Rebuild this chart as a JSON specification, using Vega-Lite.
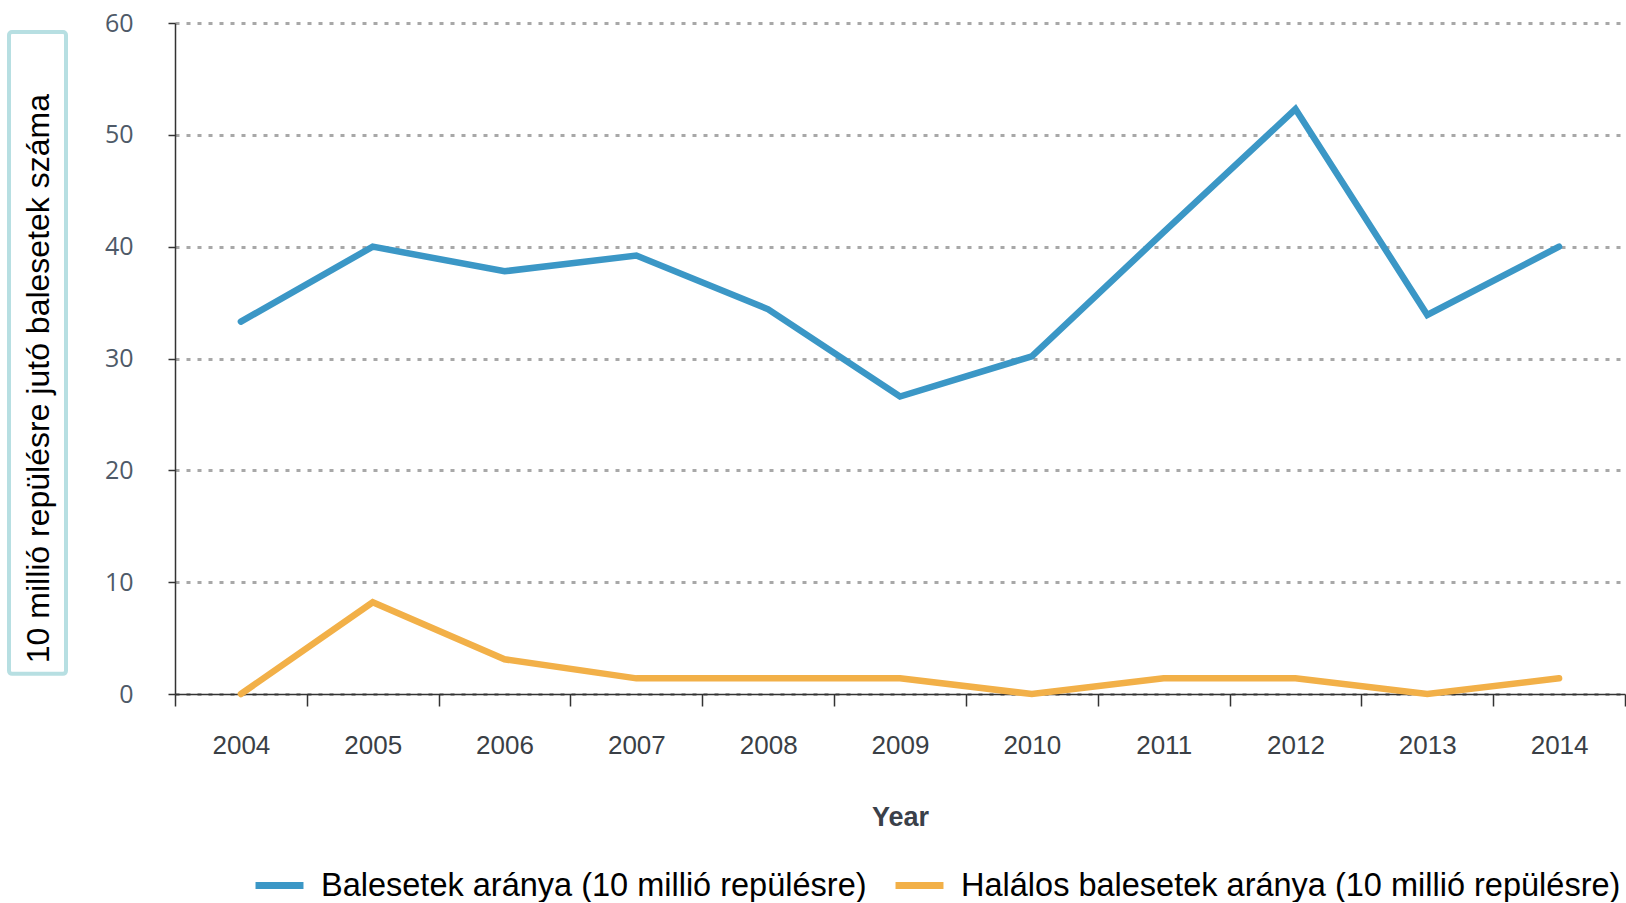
{
  "$schema": "https://vega.github.io/schema/vega-lite/v6.json",
  "padding": {"left": 7, "top": 11, "right": 0, "bottom": 0},
  "background": "white",
  "config": {"view": {"stroke": null}},
  "spacing": 36,
  "hconcat": [
    {
      "width": 57,
      "height": 671,
      "data": {"values": [{"label": "10 millió repülésre jutó balesetek száma"}]},
      "layer": [
        {
          "mark": {"type": "rect", "fill": null, "stroke": "#b7dfe2", "strokeWidth": 4, "cornerRadius": 3},
          "encoding": {
            "x": {"datum": 0, "type": "quantitative", "scale": {"domain": [0, 1], "nice": false, "zero": false}, "axis": null},
            "x2": {"datum": 1},
            "y": {"datum": 59.2, "type": "quantitative", "scale": {"domain": [0, 60], "nice": false}, "axis": null},
            "y2": {"datum": 1.8}
          }
        },
        {
          "mark": {"type": "text", "angle": 270, "align": "center", "baseline": "middle", "font": "Liberation Sans", "fontSize": 32, "color": "black"},
          "encoding": {
            "x": {"datum": 0.52, "type": "quantitative"},
            "y": {"datum": 28.2, "type": "quantitative"},
            "text": {"field": "label"}
          }
        }
      ]
    },
    {
      "width": 1450,
      "height": 671,
      "data": {"values": [
        {"year": "2004", "series": "Balesetek aránya (10 millió repülésre)", "value": 33.3},
        {"year": "2005", "series": "Balesetek aránya (10 millió repülésre)", "value": 40.0},
        {"year": "2006", "series": "Balesetek aránya (10 millió repülésre)", "value": 37.8},
        {"year": "2007", "series": "Balesetek aránya (10 millió repülésre)", "value": 39.2},
        {"year": "2008", "series": "Balesetek aránya (10 millió repülésre)", "value": 34.4},
        {"year": "2009", "series": "Balesetek aránya (10 millió repülésre)", "value": 26.6},
        {"year": "2010", "series": "Balesetek aránya (10 millió repülésre)", "value": 30.2},
        {"year": "2011", "series": "Balesetek aránya (10 millió repülésre)", "value": 41.3},
        {"year": "2012", "series": "Balesetek aránya (10 millió repülésre)", "value": 52.3},
        {"year": "2013", "series": "Balesetek aránya (10 millió repülésre)", "value": 33.9},
        {"year": "2014", "series": "Balesetek aránya (10 millió repülésre)", "value": 40.0},
        {"year": "2004", "series": "Halálos balesetek aránya (10 millió repülésre)", "value": 0},
        {"year": "2005", "series": "Halálos balesetek aránya (10 millió repülésre)", "value": 8.2},
        {"year": "2006", "series": "Halálos balesetek aránya (10 millió repülésre)", "value": 3.1},
        {"year": "2007", "series": "Halálos balesetek aránya (10 millió repülésre)", "value": 1.4},
        {"year": "2008", "series": "Halálos balesetek aránya (10 millió repülésre)", "value": 1.4},
        {"year": "2009", "series": "Halálos balesetek aránya (10 millió repülésre)", "value": 1.4},
        {"year": "2010", "series": "Halálos balesetek aránya (10 millió repülésre)", "value": 0},
        {"year": "2011", "series": "Halálos balesetek aránya (10 millió repülésre)", "value": 1.4},
        {"year": "2012", "series": "Halálos balesetek aránya (10 millió repülésre)", "value": 1.4},
        {"year": "2013", "series": "Halálos balesetek aránya (10 millió repülésre)", "value": 0},
        {"year": "2014", "series": "Halálos balesetek aránya (10 millió repülésre)", "value": 1.4}
      ]},
      "mark": {"type": "line", "strokeWidth": 6.5, "strokeCap": "round", "strokeJoin": "miter"},
      "encoding": {
        "x": {
          "field": "year", "type": "ordinal",
          "bandPosition": 0.5,
          "scale": {"type": "band", "paddingInner": 0, "paddingOuter": 0},
          "axis": {
            "title": "Year",
            "titleFont": "Liberation Sans",
            "titleFontWeight": "bold",
            "titleFontSize": 27,
            "titleColor": "#3a4049",
            "titlePadding": 46,
            "labelAngle": 0,
            "labelFont": "Liberation Sans",
            "labelFontSize": 26,
            "labelColor": "#3a3f46",
            "labelPadding": 26,
            "tickBand": "extent",
            "tickSize": 12,
            "tickColor": "#333333",
            "tickWidth": 1.5,
            "domainColor": "#333333",
            "domainWidth": 1.5,
            "grid": false
          }
        },
        "y": {
          "field": "value", "type": "quantitative",
          "scale": {"domain": [0, 60], "nice": false},
          "axis": {
            "title": null,
            "values": [0, 10, 20, 30, 40, 50, 60],
            "labelFont": "Open Sans",
            "labelFontSize": 25,
            "labelColor": "#4e5a68",
            "labelPadding": 35,
            "tickSize": 7,
            "tickColor": "#333333",
            "tickWidth": 1.5,
            "domainColor": "#333333",
            "domainWidth": 1.5,
            "grid": true,
            "gridColor": "#a8a8a8",
            "gridWidth": 3,
            "gridDash": [4, 7]
          }
        },
        "color": {
          "field": "series", "type": "nominal",
          "scale": {
            "domain": ["Balesetek aránya (10 millió repülésre)", "Halálos balesetek aránya (10 millió repülésre)"],
            "range": ["#3b97c6", "#f2b048"]
          },
          "legend": {
            "title": null,
            "orient": "none",
            "direction": "horizontal",
            "legendX": 243,
            "legendY": 835,
            "symbolType": "stroke",
            "symbolSize": 2300,
            "symbolStrokeWidth": 7,
            "labelFont": "Liberation Sans",
            "labelFontSize": 32.5,
            "labelColor": "black",
            "labelOffset": 14,
            "labelLimit": 0,
            "columnPadding": 14
          }
        }
      }
    }
  ]
}
